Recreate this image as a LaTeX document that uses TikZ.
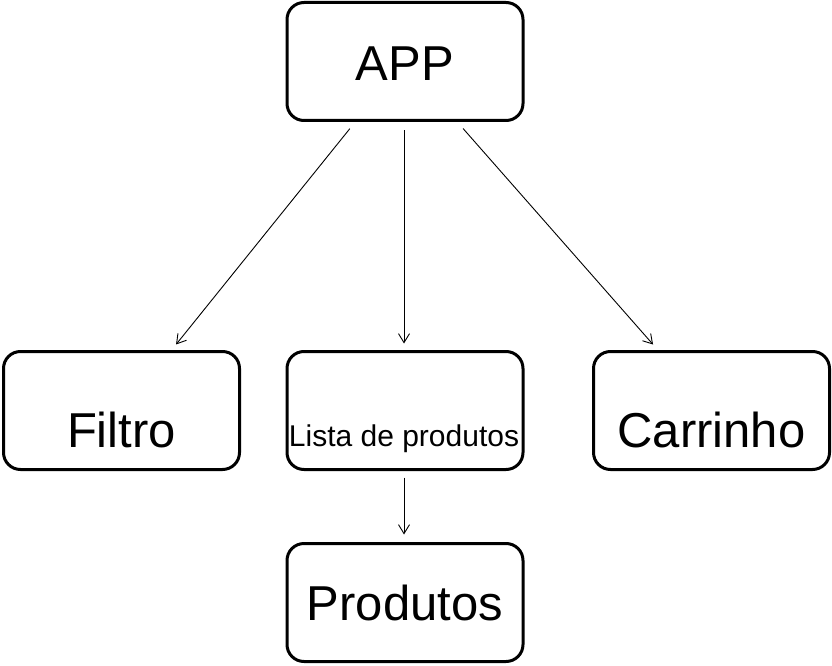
\documentclass[tikz,border=0pt]{standalone}
\usepackage{fontspec}
\setmainfont{Liberation Sans}
\usetikzlibrary{arrows.meta}
\begin{document}
\begin{tikzpicture}[x=1pt,y=-1pt,
  box/.style={draw=black, line width=3pt, rounded corners=17pt, minimum width=236pt, minimum height=118pt, inner sep=0pt, outer sep=0pt},
  big/.style={font=\fontsize{49}{58}\selectfont, anchor=base, inner sep=0pt},
  small/.style={font=\fontsize{30}{36}\selectfont, anchor=base, inner sep=0pt},
  arr/.style={draw=black, line width=0.9pt, -{Straight Barb[length=9pt,width=11pt,line width=0.9pt]}}]
\useasboundingbox (0,0) rectangle (832,666);
\node[box] (app) at (405,61.5) {};
\node[box] (filtro) at (121.5,410.5) {};
\node[box] (lista) at (405,410.5) {};
\node[box] (carrinho) at (711.5,410.5) {};
\node[box] (produtos) at (405,602.5) {};
\node[big] (tapp) at (405,81) {APP};
\node[big] (tfiltro) at (121.5,447) {Filtro};
\node[small] (tlista) at (404,446) {Lista de produtos};
\node[big] (tcarrinho) at (711.5,447) {Carrinho};
\node[big] (tprodutos) at (405,620) {Produtos};
\draw[arr, shorten <=10.5pt, shorten >=9pt] (app.south -| 356.4,0) -- (filtro.north -| 170.4,0);
\draw[arr, shorten <=10pt, shorten >=8pt] (app.south -| 404,0) -- (lista.north -| 404,0);
\draw[arr, shorten <=10.7pt, shorten >=9.3pt] (app.south -| 456,0) -- (carrinho.north -| 659.2,0);
\draw[arr, shorten <=8pt, shorten >=9pt] (lista.south -| 404,0) -- (produtos.north -| 404,0);
\end{tikzpicture}
\end{document}
